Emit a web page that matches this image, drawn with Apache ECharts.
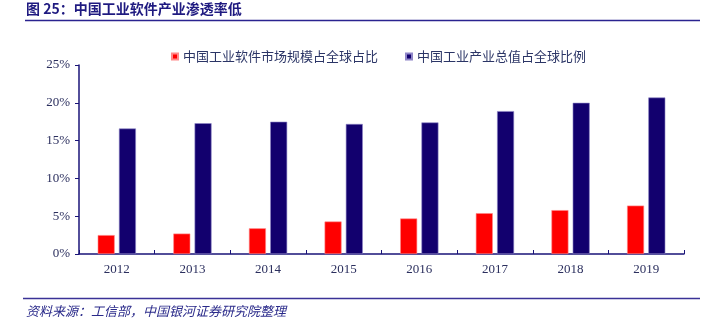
<!DOCTYPE html>
<html>
<head>
<meta charset="utf-8">
<script src="https://cdn.jsdelivr.net/npm/echarts@6/dist/echarts.min.js"></script>
<style>
  html, body { margin: 0; padding: 0; background: #fff; }
  #chart { width: 704px; height: 325px; }
</style>
</head>
<body>
<div id="chart"></div>
<script>
// Years on the category axis
const years = ['2012', '2013', '2014', '2015', '2016', '2017', '2018', '2019'];
// China's industrial software market as share of global market (%)
const softwareShare = [2.5, 2.7, 3.4, 4.3, 4.7, 5.4, 5.8, 6.4];
// China's industrial output as share of global total (%)
const industryShare = [16.6, 17.3, 17.5, 17.2, 17.4, 18.9, 20.0, 20.7];
// Value axis ticks (%)
const yTicks = [0, 5, 10, 15, 20, 25];

const navy = '#1a1478';
const labelColor = '#2b2f5e';
const serif = '"Liberation Serif", "Times New Roman", serif';
const cjk = '"Noto Sans CJK SC", sans-serif';

const chart = echarts.init(document.getElementById('chart'));
chart.setOption({
  animation: false,
  backgroundColor: '#fff',
  graphic: [
    {
      type: 'text', left: 26, top: 2,
      style: { text: '图 25：中国工业软件产业渗透率低', fill: '#1f1a80',
               font: 'bold 14px ' + cjk }
    },
    {
      type: 'line', shape: { x1: 25, y1: 20.5, x2: 700, y2: 20.5 },
      style: { stroke: '#2a2390', lineWidth: 1.5 }
    },
    {
      type: 'line', shape: { x1: 23, y1: 298.5, x2: 700, y2: 298.5 },
      style: { stroke: '#3a3296', lineWidth: 1.5 }
    },
    {
      type: 'text', left: 26, top: 305,
      style: { text: '资料来源：工信部，中国银河证券研究院整理', fill: '#2a2a8a',
               font: 'italic 13px ' + cjk }
    }
  ],
  legend: {
    left: 166, top: 45,
    itemWidth: 6, itemHeight: 6, itemGap: 27,
    icon: 'rect',
    textStyle: { fontFamily: cjk, fontSize: 13, color: '#2b3566' },
    data: ['中国工业软件市场规模占全球占比', '中国工业产业总值占全球比例']
  },
  grid: { left: 79, right: 20, top: 65, bottom: 71, containLabel: false },
  xAxis: {
    type: 'category',
    data: years,
    boundaryGap: true,
    axisLine: { lineStyle: { color: navy, width: 1.5 } },
    axisTick: { show: true, length: 4, inside: true, alignWithLabel: false, lineStyle: { color: navy } },
    axisLabel: { color: labelColor, fontFamily: serif, fontSize: 13, margin: 9 }
  },
  yAxis: {
    type: 'value',
    min: yTicks[0], max: yTicks[yTicks.length - 1], interval: 5,
    splitLine: { show: false },
    axisLine: { show: true, lineStyle: { color: navy, width: 1.5 } },
    axisTick: { show: true, length: 4, lineStyle: { color: navy } },
    axisLabel: { color: labelColor, fontFamily: serif, fontSize: 13, margin: 9,
                 formatter: v => v + '%' }
  },
  series: [
    {
      name: '中国工业软件市场规模占全球占比',
      type: 'bar',
      data: softwareShare,
      barWidth: 17,
      barGap: '25%',
      itemStyle: { color: '#ff0000', borderColor: '#ff8a8a', borderWidth: 0.6 }
    },
    {
      name: '中国工业产业总值占全球比例',
      type: 'bar',
      data: industryShare,
      barWidth: 17,
      barGap: '25%',
      itemStyle: { color: '#12006e', borderColor: '#8f86c8', borderWidth: 0.6 }
    }
  ]
});
</script>
</body>
</html>
